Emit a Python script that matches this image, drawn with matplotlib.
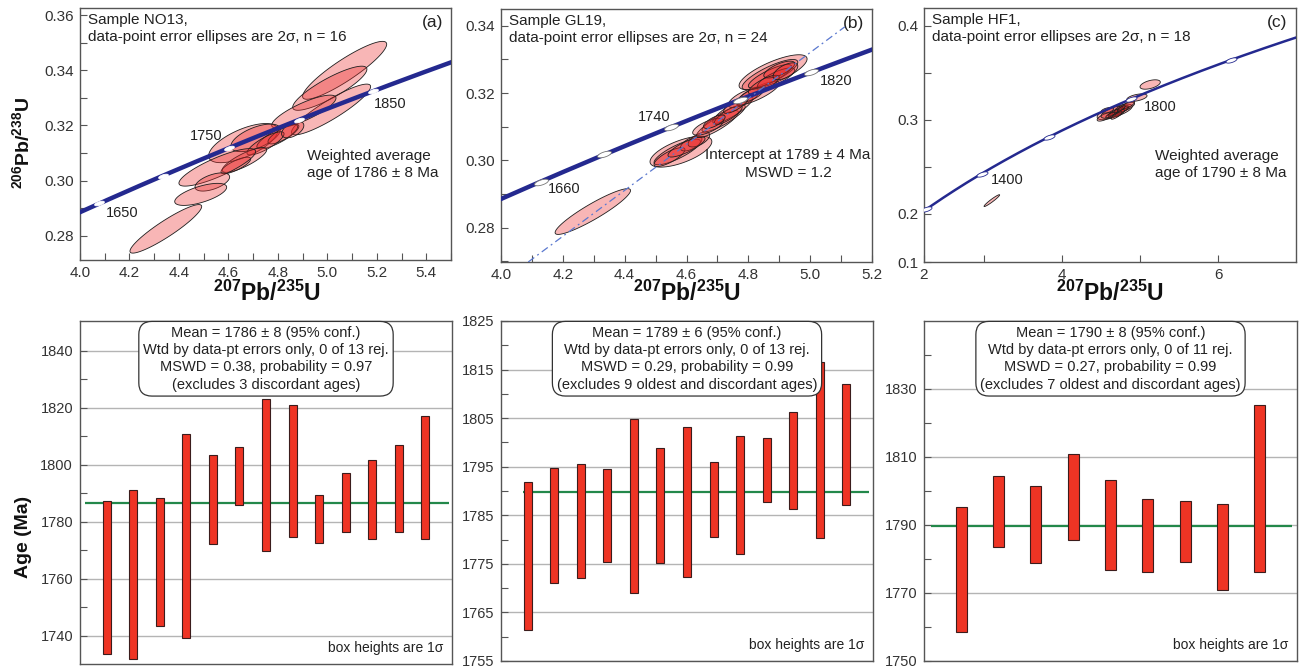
import numpy as np
import matplotlib
matplotlib.use("Agg")
import matplotlib.pyplot as plt
from matplotlib.ticker import MultipleLocator, FixedLocator

plt.rcParams['font.family'] = ['Liberation Sans', 'DejaVu Sans']
plt.rcParams['mathtext.fontset'] = 'custom'
for k in ('rm', 'it', 'bf', 'sf'):
    plt.rcParams['mathtext.' + k] = 'Liberation Sans:bold'

# decay constants (1/yr)
LAMBDA_238 = 1.55125e-10
LAMBDA_235 = 9.8485e-10

NAVY = '#24298f'
RED = '#ee3424'
GREEN = '#23884a'

# ---- concordia analyses: 207Pb/235U, 206Pb/238U, 2s half extents, rho
a_r75 = [5.07, 5.01, 5.015, 4.905, 4.66, 4.71, 4.80, 4.82, 4.75, 4.665, 4.63, 4.555, 4.535, 4.488, 4.347, 4.86]
a_r68 = [0.3400, 0.3335, 0.3258, 0.3250, 0.3136, 0.3155, 0.3160, 0.3168, 0.3135, 0.3075, 0.3055, 0.3048, 0.2995, 0.2950, 0.2825, 0.3185]
a_ex = [0.170, 0.150, 0.160, 0.130, 0.140, 0.100, 0.085, 0.060, 0.075, 0.090, 0.060, 0.155, 0.070, 0.105, 0.145, 0.045]
a_ey = [0.0105, 0.0080, 0.0092, 0.0060, 0.0071, 0.0050, 0.0045, 0.0035, 0.0042, 0.0045, 0.0030, 0.0068, 0.0033, 0.0040, 0.0088, 0.0030]
a_rho = [0.90, 0.86, 0.90, 0.82, 0.65, 0.60, 0.82, 0.78, 0.82, 0.82, 0.78, 0.84, 0.55, 0.65, 0.92, 0.50]

b_r75 = [4.297, 4.582, 4.570, 4.545, 4.615, 4.640, 4.600, 4.700, 4.720, 4.750, 4.670, 4.735,
         4.785, 4.830, 4.810, 4.880, 4.870, 4.870, 4.890, 4.900, 4.850, 4.760, 4.920, 4.690]
b_r68 = [0.2848, 0.3026, 0.3025, 0.3010, 0.3050, 0.3062, 0.3040, 0.3108, 0.3125, 0.3150, 0.3100, 0.3135,
         0.3185, 0.3200, 0.3195, 0.3262, 0.3255, 0.3250, 0.3245, 0.3270, 0.3225, 0.3165, 0.3265, 0.3115]
b_ex = [0.122, 0.100, 0.075, 0.050, 0.035, 0.035, 0.060, 0.068, 0.070, 0.065, 0.050, 0.045,
        0.050, 0.070, 0.040, 0.110, 0.090, 0.070, 0.060, 0.050, 0.050, 0.040, 0.040, 0.035]
b_ey = [0.0068, 0.0046, 0.0038, 0.0028, 0.0022, 0.0022, 0.0030, 0.0040, 0.0040, 0.0040, 0.0025, 0.0028,
        0.0028, 0.0035, 0.0022, 0.0052, 0.0045, 0.0035, 0.0030, 0.0025, 0.0028, 0.0025, 0.0025, 0.0020]
b_rho = [0.92, 0.65, 0.82, 0.78, 0.60, 0.60, 0.82, 0.87, 0.87, 0.87, 0.70, 0.82,
         0.70, 0.82, 0.70, 0.76, 0.82, 0.82, 0.78, 0.70, 0.78, 0.78, 0.60, 0.70]

c_r75 = [3.10, 5.13, 4.96, 4.62, 4.55, 4.70, 4.72, 4.75, 4.68, 4.80, 4.78, 4.66, 4.74, 4.70, 4.85, 4.62, 4.76, 4.58]
c_r68 = [0.2138, 0.3375, 0.3235, 0.3070, 0.3030, 0.3090, 0.3085, 0.3100, 0.3060, 0.3130, 0.3105, 0.3075,
         0.3070, 0.3045, 0.3160, 0.3050, 0.3120, 0.3100]
c_ex = [0.100, 0.130, 0.130, 0.170, 0.100, 0.200, 0.120, 0.100, 0.090, 0.130, 0.080, 0.070, 0.060, 0.070, 0.080, 0.060, 0.050, 0.080]
c_ey = [0.0063, 0.0050, 0.0040, 0.0070, 0.0045, 0.0075, 0.0060, 0.0050, 0.0045, 0.0055, 0.0040, 0.0035,
        0.0040, 0.0040, 0.0040, 0.0030, 0.0030, 0.0030]
c_rho = [0.96, 0.50, 0.50, 0.60, 0.70, 0.70, 0.80, 0.80, 0.85, 0.75, 0.80, 0.85, 0.80, 0.85, 0.70, 0.80, 0.80, 0.50]

# concordia age marks (Ma)
a_marks = [1650, 1700, 1750, 1800, 1850]
b_marks = [1660, 1700, 1740, 1780, 1820]
c_marks = [1200, 1400, 1600, 1800, 2000]

# discordia line in (b)
b_disc_x = [4.088, 5.112]
b_disc_y = [0.2698, 0.3397]

# ---- weighted mean age bars (Ma): box tops / bottoms
a_top = [1787.3, 1791.0, 1788.4, 1810.7, 1803.5, 1806.4, 1823.2, 1820.9, 1789.5, 1797.0, 1801.7, 1807.0, 1817.2]
a_bot = [1733.6, 1731.7, 1743.5, 1739.2, 1772.1, 1785.9, 1769.6, 1774.7, 1772.6, 1776.5, 1773.8, 1776.5, 1774.0]
a_mean = 1786.7

b_top = [1791.8, 1794.7, 1795.5, 1794.6, 1804.9, 1798.8, 1803.1, 1796.0, 1801.3, 1801.0, 1806.2, 1816.6, 1812.0]
b_bot = [1761.4, 1771.0, 1772.1, 1775.4, 1769.1, 1775.2, 1772.3, 1780.5, 1777.1, 1787.7, 1786.2, 1780.3, 1787.2]
b_mean = 1789.8

c_top = [1795.3, 1804.3, 1801.5, 1810.9, 1803.3, 1797.7, 1797.1, 1796.2, 1825.3]
c_bot = [1758.4, 1783.5, 1778.9, 1785.6, 1776.8, 1776.1, 1779.0, 1770.9, 1776.2]
c_mean = 1789.8

a_box = ["Mean = 1786 \u00b1 8 (95% conf.)", "Wtd by data-pt errors only, 0 of 13 rej.",
         "MSWD = 0.38, probability = 0.97", "(excludes 3 discordant ages)"]
b_box = ["Mean = 1789 \u00b1 6 (95% conf.)", "Wtd by data-pt errors only, 0 of 13 rej.",
         "MSWD = 0.29, probability = 0.99", "(excludes 9 oldest and discordant ages)"]
c_box = ["Mean = 1790 \u00b1 8 (95% conf.)", "Wtd by data-pt errors only, 0 of 11 rej.",
         "MSWD = 0.27, probability = 0.99", "(excludes 7 oldest and discordant ages)"]

fig = plt.figure(figsize=(13.06, 6.69), dpi=100)
W, H = 1306.0, 669.0


def box_axes(left, top, right, bottom):
    return fig.add_axes([left / W, 1 - bottom / H, (right - left) / W, (bottom - top) / H])


def style(ax, size):
    for s in ax.spines.values():
        s.set_color('#555555')
        s.set_linewidth(1.0)
    ax.tick_params(which='both', direction='in', length=5, width=0.8, color='#555555',
                   labelcolor='#333333', labelsize=size, pad=4)


def ell_marker(ang):
    t = np.linspace(0, 2 * np.pi, 40)
    x, y = np.cos(t), 0.35 * np.sin(t)
    c, s = np.cos(np.radians(ang)), np.sin(np.radians(ang))
    return list(zip(c * x - s * y, s * x + c * y))


def ellipses(ax, cx, cy, ex, ey, rho):
    t = np.linspace(0, 2 * np.pi, 150)
    for x0, y0, dx, dy, r in zip(cx, cy, ex, ey, rho):
        xs = x0 + dx * np.cos(t)
        ys = y0 + dy * (r * np.cos(t) + np.sqrt(1 - r * r) * np.sin(t))
        ax.fill(xs, ys, facecolor=(0.92, 0.16, 0.16, 0.34), edgecolor='#1e1e1e', lw=0.6, zorder=3)


def concordia(ax, t0, t1, lw, marks, labels, mec, ms):
    t = np.linspace(t0, t1, 500) * 1e6
    ax.plot(np.expm1(LAMBDA_235 * t), np.expm1(LAMBDA_238 * t), color=NAVY, lw=lw, zorder=5)
    tm = np.array(marks) * 1e6
    mx, my = np.expm1(LAMBDA_235 * tm), np.expm1(LAMBDA_238 * tm)
    ax.plot(mx, my, ls='none', marker=ell_marker(18), ms=ms, mfc='white', mec=mec, mew=0.6, zorder=6)
    for age, off in labels:
        i = marks.index(age)
        ax.annotate(str(age), (mx[i], my[i]), xytext=off, textcoords='offset pixels',
                    ha='center', va='center', fontsize=10.5, color='#222222', zorder=7)


# ---------------- top row: concordia diagrams
ax_a = box_axes(80, 8, 451, 260)
ax_b = box_axes(501, 9, 872, 262)
ax_c = box_axes(924, 8, 1296, 262)
for ax in (ax_a, ax_b, ax_c):
    style(ax, 11)

ellipses(ax_a, a_r75, a_r68, a_ex, a_ey, a_rho)
concordia(ax_a, 1550, 1950, 3.2, a_marks, [(1650, (23, -10)), (1750, (-23, 12)), (1850, (17, -13))], 'white', 7)
ax_a.set_xlim(4.0, 5.5)
ax_a.set_ylim(0.2712, 0.3626)
ax_a.xaxis.set_major_locator(FixedLocator(np.round(np.arange(4.0, 5.41, 0.2), 1)))
ax_a.xaxis.set_minor_locator(MultipleLocator(0.1))
ax_a.yaxis.set_major_locator(FixedLocator([0.28, 0.30, 0.32, 0.34, 0.36]))
ax_a.yaxis.set_minor_locator(MultipleLocator(0.01))
ax_a.xaxis.set_major_formatter(plt.FuncFormatter(lambda v, p: f"{v:.1f}"))
ax_a.yaxis.set_major_formatter(plt.FuncFormatter(lambda v, p: f"{v:.2f}"))

ellipses(ax_b, b_r75, b_r68, b_ex, b_ey, b_rho)
ax_b.plot(b_disc_x, b_disc_y, color='#5a78cf', lw=0.9, dashes=(6, 3, 1.5, 3), zorder=6)
concordia(ax_b, 1550, 1950, 3.2, b_marks, [(1660, (23, -7)), (1740, (-17, 10)), (1820, (25, -9))], '#777777', 10)
ax_b.set_xlim(4.0, 5.2)
ax_b.set_ylim(0.2698, 0.345)
ax_b.xaxis.set_major_locator(FixedLocator(np.round(np.arange(4.0, 5.21, 0.2), 1)))
ax_b.xaxis.set_minor_locator(MultipleLocator(0.1))
ax_b.yaxis.set_major_locator(FixedLocator([0.28, 0.30, 0.32, 0.34]))
ax_b.yaxis.set_minor_locator(MultipleLocator(0.01))
ax_b.xaxis.set_major_formatter(plt.FuncFormatter(lambda v, p: f"{v:.1f}"))
ax_b.yaxis.set_major_formatter(plt.FuncFormatter(lambda v, p: f"{v:.2f}"))

ellipses(ax_c, c_r75, c_r68, c_ex, c_ey, c_rho)
concordia(ax_c, 1050, 2300, 1.8, c_marks, [(1400, (26, -6)), (1800, (29, -8))], NAVY, 8)
ax_c.set_xlim(2.23, 7.0)
ax_c.set_ylim(0.1484, 0.419)
ax_c.set_xticks([2.23, 3, 4, 5, 6], ['2', '', '4', '', '6'])
ax_c.set_yticks([0.1484, 0.2, 0.3, 0.4], ['0.1', '0.2', '0.3', '0.4'])
ax_c.yaxis.set_minor_locator(FixedLocator([0.25, 0.35]))

n_text = {ax_a: ("Sample NO13,", 16, "(a)"), ax_b: ("Sample GL19,", 24, "(b)"), ax_c: ("Sample HF1,", 18, "(c)")}
for ax, (name, n, tag) in n_text.items():
    ax.text(0.022, 0.953, name, transform=ax.transAxes, fontsize=11, va='center', color='#222222')
    ax.text(0.022, 0.886, f"data-point error ellipses are 2\u03c3, n = {n}", transform=ax.transAxes,
            fontsize=11, va='center', color='#222222')
    ax.text(0.95, 0.942, tag, transform=ax.transAxes, fontsize=12.5, ha='center', va='center', color='#222222')

ax_a.text(0.612, 0.413, "Weighted average", transform=ax_a.transAxes, fontsize=11, va='center', color='#222222')
ax_a.text(0.612, 0.345, "age of 1786 \u00b1 8 Ma", transform=ax_a.transAxes, fontsize=11, va='center', color='#222222')
ax_b.text(0.774, 0.423, "Intercept at 1789 \u00b1 4 Ma", transform=ax_b.transAxes, fontsize=11, ha='center', va='center', color='#222222')
ax_b.text(0.774, 0.352, "MSWD = 1.2", transform=ax_b.transAxes, fontsize=11, ha='center', va='center', color='#222222')
ax_c.text(0.621, 0.417, "Weighted average", transform=ax_c.transAxes, fontsize=11, va='center', color='#222222')
ax_c.text(0.621, 0.350, "age of 1790 \u00b1 8 Ma", transform=ax_c.transAxes, fontsize=11, va='center', color='#222222')

for xc in (267, 687, 1110):
    fig.text(xc / W, 1 - 293 / H, r'$^{207}$Pb/$^{235}$U', ha='center', va='center',
             fontsize=16.5, fontweight='bold', color='#111111')
fig.text(22 / W, 1 - 143 / H, r'$^{206}$Pb/$^{238}$U', ha='center', va='center', rotation=90,
         fontsize=14, fontweight='bold', color='#111111')


# ---------------- bottom row: weighted mean ages
def age_panel(ax, tops, bots, mean, span, xmax, ylim, major, minor, lines):
    tops, bots = np.array(tops), np.array(bots)
    x = np.arange(1, len(tops) + 1)
    ax.bar(x, tops - bots, bottom=bots, width=0.3, color=RED, edgecolor='#3b1c1c', lw=0.8, zorder=3)
    ax.hlines(mean, span[0], span[1], color=GREEN, lw=1.6, zorder=2)
    ax.set_xlim(0, xmax)
    ax.set_ylim(*ylim)
    ax.set_xticks([])
    ax.yaxis.set_major_locator(FixedLocator(major))
    ax.yaxis.set_minor_locator(FixedLocator(minor))
    ax.grid(axis='y', which='major', color='#b4b4b4', lw=1.0, zorder=0)
    ax.set_axisbelow(True)
    style(ax, 10.5)
    ax.tick_params(axis='y', pad=5)
    ax.text(0.5, 0.986, "\n".join(lines), transform=ax.transAxes, ha='center', va='top', fontsize=10.5,
            linespacing=1.3, color='#222222', zorder=6,
            bbox=dict(boxstyle='round,pad=0.3,rounding_size=0.9', fc='white', ec='#333333', lw=0.9))
    ax.text(0.978, 0.047, "box heights are 1\u03c3", transform=ax.transAxes, ha='right', va='center',
            fontsize=10, color='#222222')


bx_a = box_axes(80, 321, 452, 664)
bx_b = box_axes(501, 321, 873, 661)
bx_c = box_axes(924, 321, 1297, 661)

age_panel(bx_a, a_top, a_bot, a_mean, (0.19, 13.9), 14.0, (1730, 1850.5),
          np.arange(1740, 1841, 20), np.arange(1750, 1831, 20), a_box)
age_panel(bx_b, b_top, b_bot, b_mean, (0.84, 13.86), 14.0, (1755, 1825),
          np.arange(1755, 1826, 10), np.arange(1760, 1821, 10), b_box)
age_panel(bx_c, c_top, c_bot, c_mean, (0.2, 9.86), 10.0, (1750, 1850),
          np.arange(1750, 1831, 20), np.arange(1760, 1841, 20), c_box)

fig.text(23 / W, 1 - 537 / H, "Age (Ma)", ha='center', va='center', rotation=90,
         fontsize=14, fontweight='bold', color='#111111')

fig.savefig("out.png", dpi=100)
